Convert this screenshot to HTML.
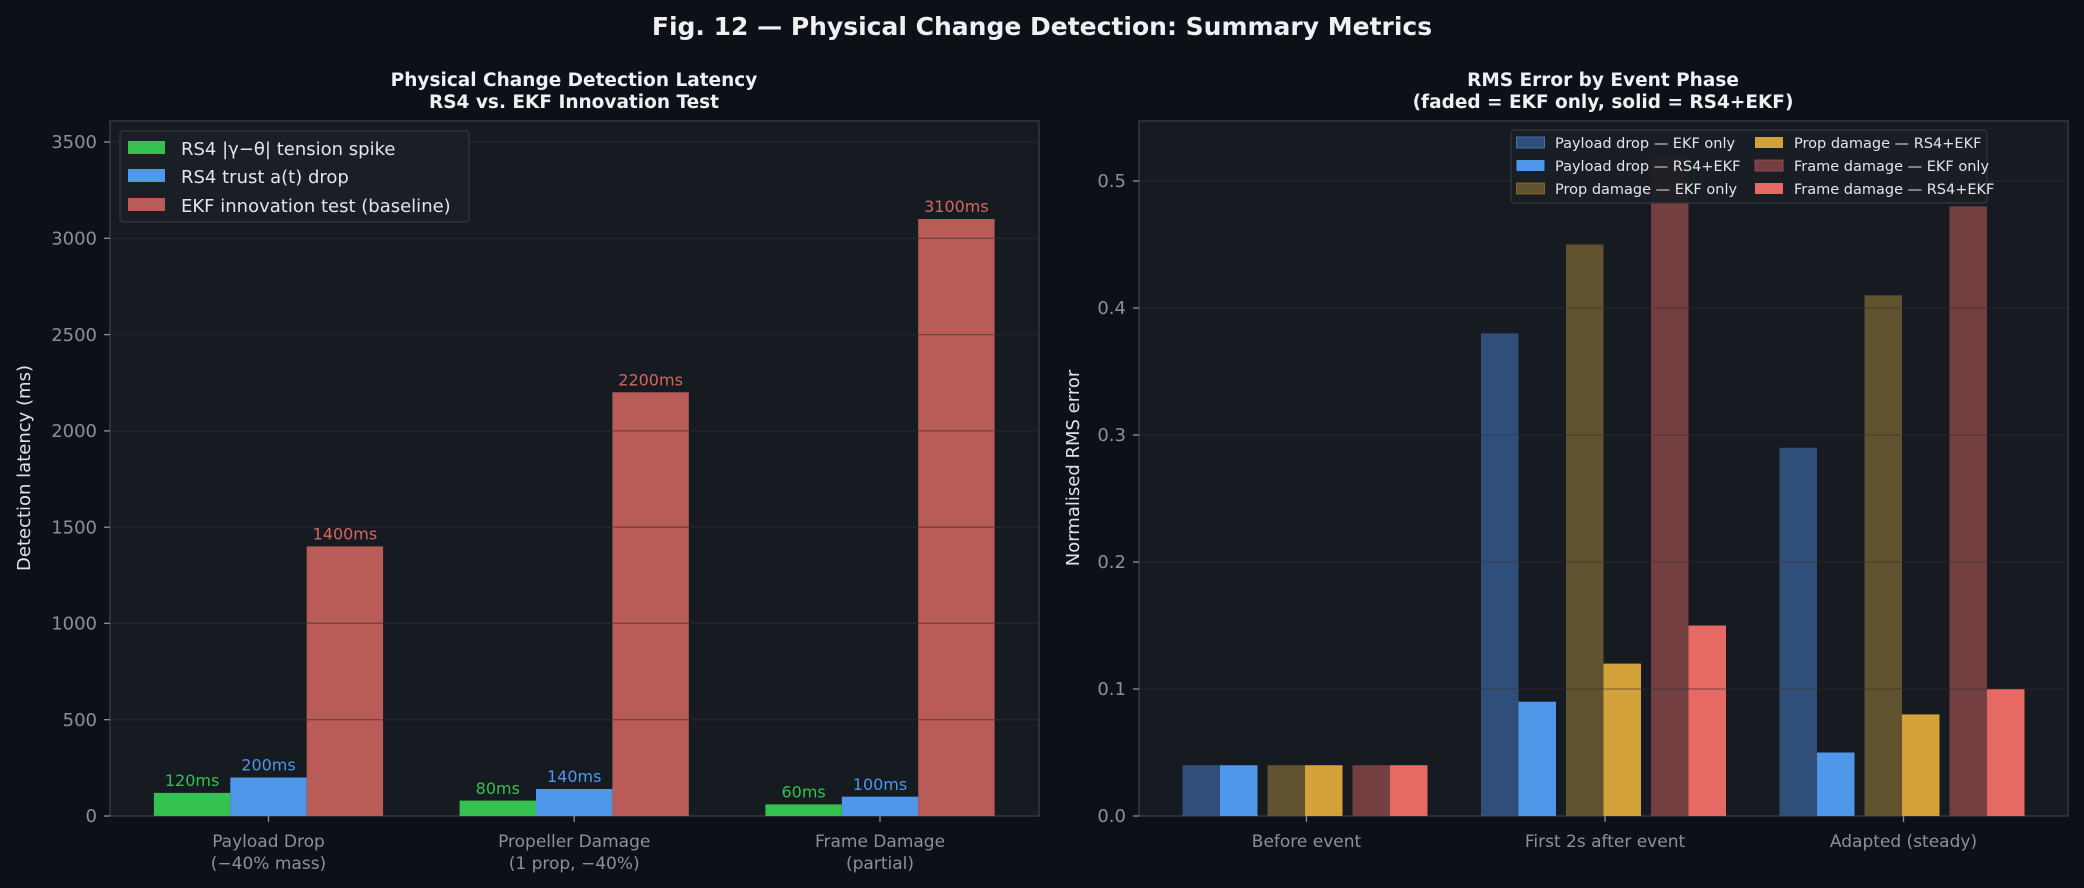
<!DOCTYPE html>
<html><head><meta charset="utf-8"><style>
html,body{margin:0;padding:0;background:#0d1017;}
svg{display:block;font-family:"DejaVu Sans","Liberation Sans",sans-serif;}
</style></head><body>
<svg width="2084" height="888" viewBox="0 0 2084 888" xmlns="http://www.w3.org/2000/svg">
<rect width="2084" height="888" fill="#0d1017"/>
<text x="1042" y="35" text-anchor="middle" font-size="25" font-weight="bold" fill="#eef0f3">Fig. 12 — Physical Change Detection: Summary Metrics</text>

<!-- LEFT -->
<text x="574" y="86" text-anchor="middle" font-size="18.5" font-weight="bold" fill="#eef0f3">Physical Change Detection Latency</text>
<text x="574" y="108" text-anchor="middle" font-size="18.5" font-weight="bold" fill="#eef0f3">RS4 vs. EKF Innovation Test</text>
<rect x="110" y="121" width="929" height="695" fill="#161a21" stroke="#3a3f48" stroke-width="1.3"/>
<g fill="#35c14f"><rect x="153.9" y="792.9" width="76.4" height="23.1"/><rect x="459.6" y="800.6" width="76.4" height="15.4"/><rect x="765.4" y="804.4" width="76.4" height="11.6"/></g>
<g fill="#4f97e8"><rect x="230.3" y="777.5" width="76.4" height="38.5"/><rect x="536" y="789" width="76.4" height="27"/><rect x="841.8" y="796.7" width="76.4" height="19.3"/></g>
<g fill="#b95c58"><rect x="306.7" y="546.4" width="76.4" height="269.6"/><rect x="612.4" y="392.3" width="76.4" height="423.7"/><rect x="918.2" y="219" width="76.4" height="597"/></g>
<g stroke="#3a2e30" stroke-opacity="0.55" stroke-width="1.3">
<line x1="110" x2="1039" y1="719.7" y2="719.7"/><line x1="110" x2="1039" y1="623.3" y2="623.3"/><line x1="110" x2="1039" y1="527.2" y2="527.2"/><line x1="110" x2="1039" y1="430.9" y2="430.9"/><line x1="110" x2="1039" y1="334.6" y2="334.6"/><line x1="110" x2="1039" y1="238.3" y2="238.3"/><line x1="110" x2="1039" y1="142" y2="142"/>
</g>
<g font-size="16" text-anchor="middle">
<text x="192.1" y="786" fill="#35c14f">120ms</text><text x="268.5" y="770.5" fill="#4f97e8">200ms</text><text x="344.9" y="539.5" fill="#d9655f">1400ms</text>
<text x="497.8" y="794" fill="#35c14f">80ms</text><text x="574.2" y="782" fill="#4f97e8">140ms</text><text x="650.6" y="385.5" fill="#d9655f">2200ms</text>
<text x="803.6" y="797.5" fill="#35c14f">60ms</text><text x="880" y="790" fill="#4f97e8">100ms</text><text x="956.4" y="212" fill="#d9655f">3100ms</text>
</g>
<g stroke="#8b919a" stroke-width="1.3">
<line x1="104" x2="110" y1="816" y2="816"/><line x1="104" x2="110" y1="719.7" y2="719.7"/><line x1="104" x2="110" y1="623.3" y2="623.3"/><line x1="104" x2="110" y1="527.2" y2="527.2"/><line x1="104" x2="110" y1="430.9" y2="430.9"/><line x1="104" x2="110" y1="334.6" y2="334.6"/><line x1="104" x2="110" y1="238.3" y2="238.3"/><line x1="104" x2="110" y1="142" y2="142"/>
<line x1="268.5" x2="268.5" y1="816" y2="822"/><line x1="574.2" x2="574.2" y1="816" y2="822"/><line x1="880" x2="880" y1="816" y2="822"/>
</g>
<g font-size="18" fill="#8b919a" text-anchor="end">
<text x="97" y="822">0</text><text x="97" y="726">500</text><text x="97" y="629.5">1000</text><text x="97" y="533.5">1500</text><text x="97" y="437">2000</text><text x="97" y="341">2500</text><text x="97" y="244.5">3000</text><text x="97" y="148">3500</text>
</g>
<g font-size="17" fill="#8b919a" text-anchor="middle">
<text x="268.5" y="847">Payload Drop</text><text x="268.5" y="869">(−40% mass)</text>
<text x="574.2" y="847">Propeller Damage</text><text x="574.2" y="869">(1 prop, −40%)</text>
<text x="880" y="847">Frame Damage</text><text x="880" y="869">(partial)</text>
</g>
<text transform="translate(30,468) rotate(-90)" text-anchor="middle" font-size="18" fill="#dfe2e6">Detection latency (ms)</text>
<rect x="120" y="131" width="349" height="91" rx="3" fill="#1a1e25" stroke="#333842" stroke-width="1.2"/>
<rect x="128" y="141" width="37" height="13" fill="#35c14f"/><text x="181" y="155" font-size="18" fill="#e2e5e9">RS4 |γ−θ| tension spike</text>
<rect x="128" y="169" width="37" height="13" fill="#4f97e8"/><text x="181" y="183" font-size="18" fill="#e2e5e9">RS4 trust a(t) drop</text>
<rect x="128" y="198" width="37" height="13" fill="#b95c58"/><text x="181" y="212" font-size="18" fill="#e2e5e9">EKF innovation test (baseline)</text>

<!-- RIGHT -->
<text x="1603" y="86" text-anchor="middle" font-size="18.5" font-weight="bold" fill="#eef0f3">RMS Error by Event Phase</text>
<text x="1603" y="108" text-anchor="middle" font-size="18.5" font-weight="bold" fill="#eef0f3">(faded = EKF only, solid = RS4+EKF)</text>
<rect x="1139" y="121" width="929" height="695" fill="#161a21" stroke="#3a3f48" stroke-width="1.3"/>
<g fill="#2f4f7a"><rect x="1182.5" y="765.2" width="37.5" height="50.8"/><rect x="1481" y="333.4" width="37.5" height="482.6"/><rect x="1779.5" y="447.7" width="37.5" height="368.3"/></g>
<g fill="#4f97e8"><rect x="1220" y="765.2" width="37.5" height="50.8"/><rect x="1518.5" y="701.7" width="37.5" height="114.3"/><rect x="1817" y="752.5" width="37.5" height="63.5"/></g>
<g fill="#625330"><rect x="1267.5" y="765.2" width="37.5" height="50.8"/><rect x="1566" y="244.5" width="37.5" height="571.5"/><rect x="1864.5" y="295.3" width="37.5" height="520.7"/></g>
<g fill="#d4a23a"><rect x="1305" y="765.2" width="37.5" height="50.8"/><rect x="1603.5" y="663.6" width="37.5" height="152.4"/><rect x="1902" y="714.4" width="37.5" height="101.6"/></g>
<g fill="#733f40"><rect x="1352.5" y="765.2" width="37.5" height="50.8"/><rect x="1651" y="155.6" width="37.5" height="660.4"/><rect x="1949.5" y="206.4" width="37.5" height="609.6"/></g>
<g fill="#e66a63"><rect x="1390" y="765.2" width="37.5" height="50.8"/><rect x="1688.5" y="625.5" width="37.5" height="190.5"/><rect x="1987" y="689" width="37.5" height="127"/></g>
<g stroke="#3a2e30" stroke-opacity="0.5" stroke-width="1.3">
<line x1="1139" x2="2068" y1="689" y2="689"/><line x1="1139" x2="2068" y1="562" y2="562"/><line x1="1139" x2="2068" y1="435" y2="435"/><line x1="1139" x2="2068" y1="308" y2="308"/><line x1="1139" x2="2068" y1="181" y2="181"/>
</g>
<g stroke="#8b919a" stroke-width="1.3">
<line x1="1133" x2="1139" y1="816" y2="816"/><line x1="1133" x2="1139" y1="689" y2="689"/><line x1="1133" x2="1139" y1="562" y2="562"/><line x1="1133" x2="1139" y1="435" y2="435"/><line x1="1133" x2="1139" y1="308" y2="308"/><line x1="1133" x2="1139" y1="181" y2="181"/>
<line x1="1306.5" x2="1306.5" y1="816" y2="822"/><line x1="1605" x2="1605" y1="816" y2="822"/><line x1="1903.5" x2="1903.5" y1="816" y2="822"/>
</g>
<g font-size="18" fill="#8b919a" text-anchor="end">
<text x="1126" y="822">0.0</text><text x="1126" y="695">0.1</text><text x="1126" y="568">0.2</text><text x="1126" y="441">0.3</text><text x="1126" y="314">0.4</text><text x="1126" y="187">0.5</text>
</g>
<g font-size="17" fill="#8b919a" text-anchor="middle">
<text x="1306.5" y="847">Before event</text><text x="1605" y="847">First 2s after event</text><text x="1903.5" y="847">Adapted (steady)</text>
</g>
<text transform="translate(1079,468) rotate(-90)" text-anchor="middle" font-size="18" fill="#dfe2e6">Normalised RMS error</text>
<rect x="1511" y="130" width="476" height="73" rx="3" fill="#1a1e25" fill-opacity="0.93" stroke="#333842" stroke-width="1.2"/>
<g font-size="14.5" fill="#e2e5e9">
<rect x="1516.5" y="137" width="28" height="11" fill="#2f4f7a" stroke="#4f7fbf" stroke-width="0.8"/><text x="1555" y="148">Payload drop — EKF only</text>
<rect x="1516.5" y="160" width="28" height="11" fill="#4f97e8"/><text x="1555" y="171">Payload drop — RS4+EKF</text>
<rect x="1516.5" y="183" width="28" height="11" fill="#625330" stroke="#8f7336" stroke-width="0.8"/><text x="1555" y="194">Prop damage — EKF only</text>
<rect x="1755" y="137" width="28" height="11" fill="#d4a23a"/><text x="1794" y="148">Prop damage — RS4+EKF</text>
<rect x="1755" y="160" width="28" height="11" fill="#733f40" stroke="#a45554" stroke-width="0.8"/><text x="1794" y="171">Frame damage — EKF only</text>
<rect x="1755" y="183" width="28" height="11" fill="#e66a63"/><text x="1794" y="194">Frame damage — RS4+EKF</text>
</g>
</svg>
</body></html>
